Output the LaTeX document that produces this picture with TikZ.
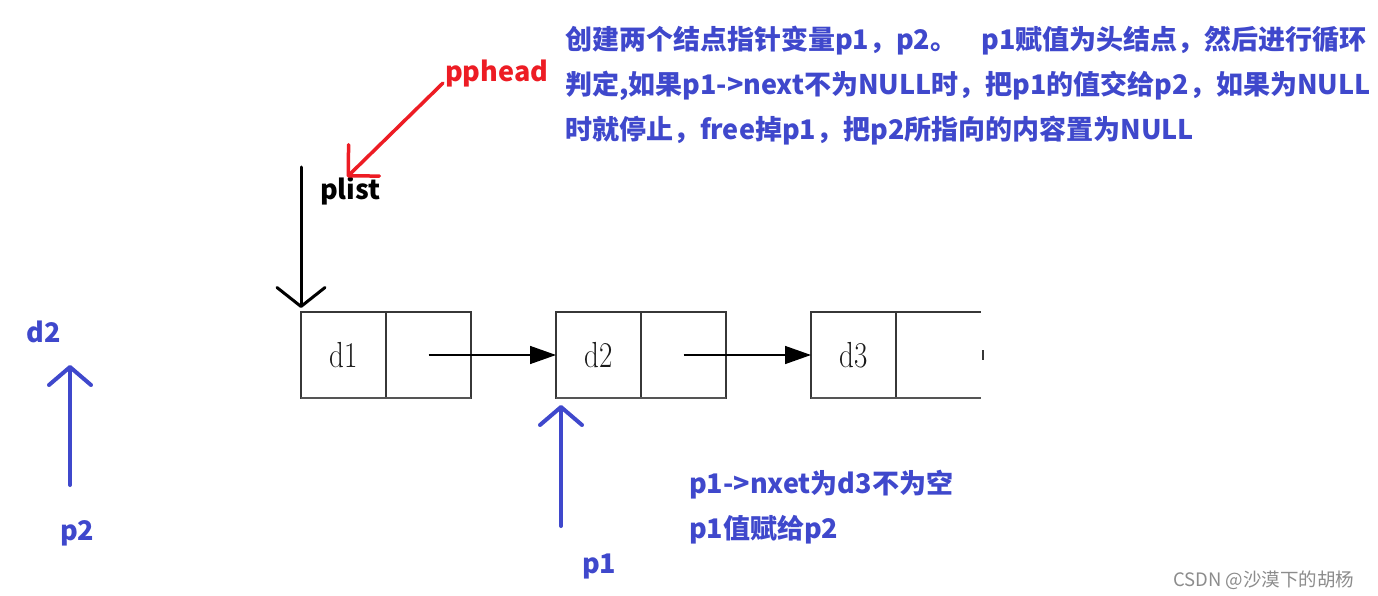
\documentclass[tikz,border=0pt]{standalone}
\usepackage{fontspec}
\newfontfamily\cjk{Noto Sans CJK SC}
\usetikzlibrary{arrows.meta}
\definecolor{pblue}{RGB}{63,72,204}
\definecolor{pred}{RGB}{237,28,36}
\definecolor{boxgray}{RGB}{55,55,55}
\begin{document}
\begin{tikzpicture}[x=1pt,y=-1pt,
  every node/.style={inner sep=0pt, outer sep=0pt},
  cell/.style={draw=boxgray, line width=1.3pt, minimum width=85pt, minimum height=86pt,
    font=\fontsize{29}{29}\selectfont, text=black!90},
  lbl/.style={anchor=base west, font=\cjk\bfseries\fontsize{27}{32}\selectfont},
  bluelbl/.style={lbl, text=pblue},
  link/.style={line width=1.5pt, -{Triangle[length=26pt,width=18pt]}},
  bottomedge/.style={line width=2.6pt, boxgray!85},
  hand/.style={line cap=round, line join=round}
]
\fill[white] (0,0) rectangle (1378,596);
\useasboundingbox (0,0) rectangle (1378,596);

% list cells
\node[cell] (d1) at (343.5,355) {\scalebox{1}[1.25]{d1}};
\node[cell] (n1) at (428.5,355) {};
\node[cell] (d2) at (598.5,355) {\scalebox{1}[1.25]{d2}};
\node[cell] (n2) at (683.5,355) {};
\node[cell] (d3) at (853.5,355) {\scalebox{1}[1.25]{d3}};
\node[cell, draw=none] (n3) at (938.5,355) {};
\draw[boxgray, line width=1.3pt] (n3.north west) -- (n3.north east);
\draw[boxgray, line width=1.3pt] (n3.east) ++(2,-5) -- ++(0,10);
\draw[bottomedge] (d1.south west) -- (n1.south east);
\draw[bottomedge] (d2.south west) -- (n2.south east);
\draw[bottomedge] (d3.south west) -- (n3.south east);

\draw[link] (n1.center) -- (d2.west);
\draw[link] (n2.center) -- (d3.west);

% texts
\node[bluelbl] (t1) at (565,50) {创建两个结点指针变量p1，p2。\hspace{24pt}p1赋值为头结点，然后进行循环};
\node[bluelbl] (t2) at (565,95) {判定,如果p1->next不为NULL时，把p1的值交给p2，如果为NULL};
\node[bluelbl] (t3) at (565,140) {时就停止，free掉p1，把p2所指向的内容置为NULL};
\node[bluelbl] (t4) at (689,493) {p1->nxet为d3不为空};
\node[bluelbl] (t5) at (689,538) {p1值赋给p2};
\node[bluelbl] (p1) at (582,573) {p1};
\node[bluelbl] (p2) at (60,540) {p2};
\node[bluelbl] (d2lbl) at (27,342) {d2};
\node[lbl] (plist) at (320,200) {plist};
\node[lbl, text=pred] (pphead) at (445,82) {pphead};
\node[anchor=base west, font=\cjk\fontsize{18.5}{20}\selectfont, text=black!45] (wm) at (1173,586) {CSDN @沙漠下的胡杨};

% pointer arrows
\coordinate (blackTail) at (301,167);
\draw[hand, line width=3pt, shorten >=4pt, -{Straight Barb[round,length=19pt,width=48pt]}] (blackTail) -- (d1.north west);

\coordinate (redTail) at (443,83);
\coordinate (redTip) at (347,177);
\draw[hand, pred, line width=3.5pt, -{Straight Barb[round,length=22pt,width=44pt]}] (redTail) -- (redTip);

\coordinate (p1Tail) at (561,526);
\coordinate (p1Tip) at (561,405);
\draw[hand, pblue, line width=4pt, -{Straight Barb[round,length=18pt,width=42pt]}] (p1Tail) -- (p1Tip);

\coordinate (p2Tail) at (70,485);
\coordinate (p2Tip) at (70,365);
\draw[hand, pblue, line width=4pt, -{Straight Barb[round,length=18pt,width=42pt]}] (p2Tail) -- (p2Tip);
\end{tikzpicture}
\end{document}
